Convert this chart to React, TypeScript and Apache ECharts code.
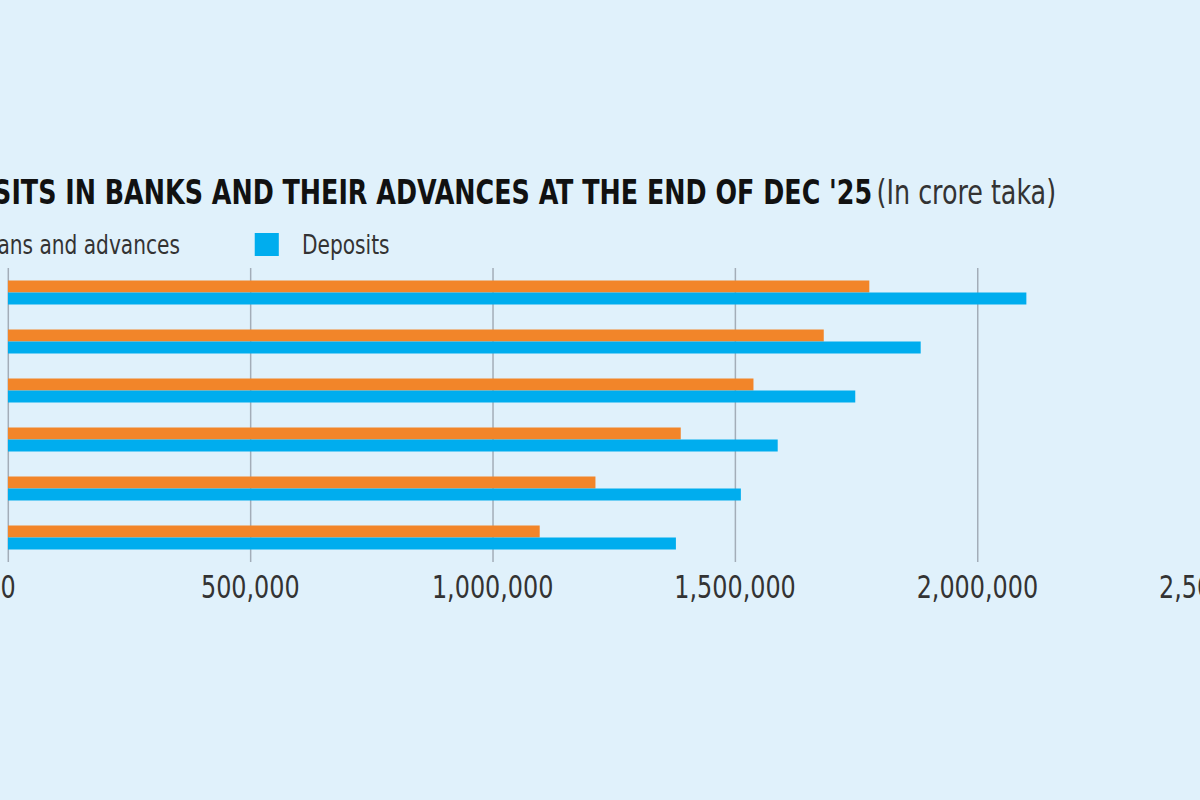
import React, { useEffect, useRef } from "react";
import * as echarts from "echarts";

// Year-end figures, in crore taka (bottom row first)
const years = ["2020", "2021", "2022", "2023", "2024", "2025"];
const loansAndAdvances = [1097000, 1212000, 1388000, 1538000, 1683000, 1777000];
const deposits = [1378000, 1512000, 1588000, 1748000, 1883000, 2101000];
const xTicks = { min: 0, max: 2500000, interval: 500000 };

const titleMain = "DEPOSITS IN BANKS AND THEIR ADVANCES AT THE END OF DEC '25";
const titleUnit = "(In crore taka)";
const seriesNames = ["Loans and advances", "Deposits"];

const FONT = "'DejaVu Sans Condensed', 'DejaVu Sans', sans-serif";
const ORANGE = "#f28529";
const BLUE = "#00adee";
const BG = "#e0f1fb";

// The chart is laid out on a wide canvas, squeezed horizontally to get a
// condensed typeface look, and shifted left so the figure is framed.
const SQUEEZE = 0.83;
const SHIFT = 200;
const CANVAS_W = 1750;

export default function App() {
  const ref = useRef<HTMLDivElement>(null);

  useEffect(() => {
    if (!ref.current) return;
    const chart = echarts.init(ref.current, undefined, { renderer: "svg" });
    chart.setOption({
      animation: false,
      backgroundColor: "transparent",
      title: {
        left: SHIFT - 103,
        top: 175,
        padding: 0,
        text: `{b|${titleMain}} {n|${titleUnit}}`,
        textStyle: {
          rich: {
            b: { fontFamily: FONT, fontWeight: "bold", fontSize: 34, color: "#111111" },
            n: { fontFamily: FONT, fontWeight: "normal", fontSize: 34, color: "#333333" },
          },
        },
      },
      legend: {
        left: 112,
        top: 231,
        padding: 0,
        icon: "rect",
        itemWidth: 29,
        itemHeight: 23,
        itemGap: 90,
        data: seriesNames,
        textStyle: {
          fontFamily: FONT,
          fontSize: 27,
          color: "#333333",
          padding: [0, 0, 0, 23],
        },
      },
      grid: { left: 209.6, top: 268, width: 1460, height: 294, containLabel: false },
      xAxis: {
        type: "value",
        min: xTicks.min,
        max: xTicks.max,
        interval: xTicks.interval,
        axisLine: { show: false },
        axisTick: { show: false },
        splitLine: { show: true, lineStyle: { color: "#a3adb8", width: 1.8 } },
        axisLabel: {
          margin: 9,
          fontFamily: FONT,
          fontSize: 32,
          color: "#333333",
          formatter: (v: number) => v.toLocaleString("en-US"),
        },
      },
      yAxis: {
        type: "category",
        data: years,
        axisLine: { show: false },
        axisTick: { show: false },
        axisLabel: { show: false },
        splitLine: { show: false },
      },
      series: [
        {
          name: seriesNames[0],
          type: "bar",
          data: loansAndAdvances,
          barWidth: 12,
          barGap: "0%",
          itemStyle: { color: ORANGE },
        },
        {
          name: seriesNames[1],
          type: "bar",
          data: deposits,
          barWidth: 12,
          barGap: "0%",
          itemStyle: { color: BLUE },
        },
      ],
    });
    return () => chart.dispose();
  }, []);

  return (
    <div
      style={{
        position: "fixed",
        inset: 0,
        overflow: "hidden",
        background: BG,
      }}
    >
      <div
        ref={ref}
        style={{
          position: "absolute",
          left: -SHIFT * SQUEEZE,
          top: 0,
          width: CANVAS_W,
          height: 800,
          transformOrigin: "0 0",
          transform: `scaleX(${SQUEEZE})`,
        }}
      />
    </div>
  );
}
